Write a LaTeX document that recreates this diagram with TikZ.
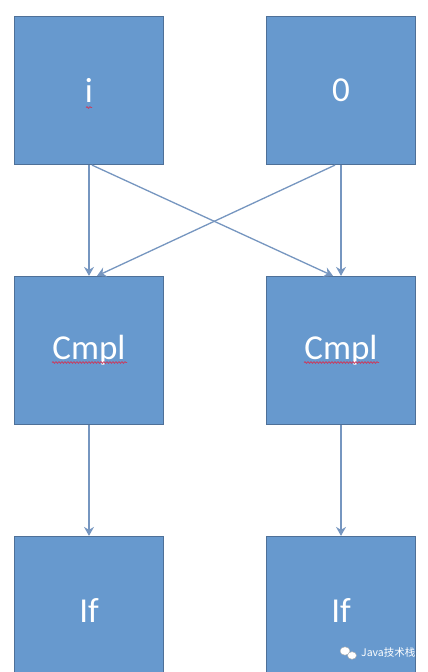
\documentclass[tikz,border=0pt]{standalone}
\usepackage{fontspec}
\setmainfont{Carlito}
\newfontfamily\cjkfont{Noto Sans CJK SC}
\usepackage{tikz}
\usetikzlibrary{arrows,calc,arrows.meta,positioning,decorations.pathmorphing}

\definecolor{boxfill}{RGB}{103,153,206}
\definecolor{boxline}{RGB}{78,112,152}
\definecolor{arrowline}{RGB}{118,150,192}
\definecolor{squiggle}{RGB}{200,60,95}

\begin{document}
\begin{tikzpicture}[x=1pt,y=1pt,>={Stealth[length=9pt,width=10pt,inset=3pt]},
        opbox/.style={draw=boxline,line width=1.2pt,fill=boxfill,
            minimum width=149pt,minimum height=148pt,inner sep=0pt,
            text=white,font=\fontsize{35}{40}\selectfont},
        flow/.style={->,draw=arrowline,line width=1.3pt},
        spell/.style={draw=squiggle,line width=0.8pt,decorate,
            decoration={snake,amplitude=0.8pt,segment length=3pt}}]
        \useasboundingbox (0,0) rectangle (428,672);
        \clip (0,0) rectangle (428,672);
        \fill[white] (0,0) rectangle (428,672);
        \newcommand{\dist}{260}
        \newcommand{\gap}{252}
        \node[opbox] (I) at (89,581.5) {i};
        \node[opbox] (Z) at ($(I) + (\gap, 0)$) {0};
        \node[opbox] (C1) at ($(I) + (0, -\dist)$) {Cmpl};
        \node[opbox] (C2) at ($(Z) + (0, -\dist)$) {Cmpl};
        \node[opbox] (If1) at ($(C1) + (0, -\dist)$) {If};
        \node[opbox] (If2) at ($(C2) + (0, -\dist)$) {If};

        \draw[flow] (I.south) -- (C1.north);
        \draw[flow] ([xshift=3pt]I.south) -- ([xshift=-8pt]C2.north);
        \draw[flow] ([xshift=-6pt]Z.south) -- ([xshift=8pt]C1.north);
        \draw[flow] (Z.south) -- (C2.north);
        \draw[flow] (C1.south) -- (If1.north);
        \draw[flow] (C2.south) -- (If2.north);

        % spell check marks
        \draw[spell] ($(I) + (-3, -17)$) -- ($(I) + (3, -17)$);
        \draw[spell] ($(C1) + (-37, -12)$) -- ($(C1) + (38, -12)$);
        \draw[spell] ($(C2) + (-37, -12)$) -- ($(C2) + (38, -12)$);

        % watermark
        \node[anchor=west,inner sep=0pt,text=white,font=\cjkfont\fontsize{10.5}{12}\selectfont]
            (mark) at (361,19) {Java技术栈};
        \fill[white,draw=gray!70,line width=0.4pt] (345,21) ellipse (5pt and 4.2pt);
        \fill[white,draw=gray!70,line width=0.4pt] (352,16.5) ellipse (4.5pt and 3.8pt);
    \end{tikzpicture}
\end{document}
